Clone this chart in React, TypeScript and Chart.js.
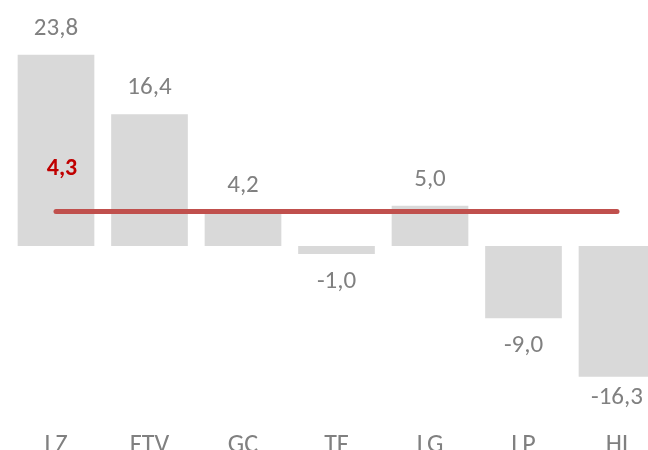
import React, { useEffect, useRef } from "react";
import { Chart, registerables } from "chart.js";

Chart.register(...registerables);

const categories: string[] = ["LZ", "FTV", "GC", "TF", "LG", "LP", "HI"];
const values: number[] = [23.8, 16.4, 4.2, -1.0, 5.0, -9.0, -16.3];
const averageValue = 4.3;
const averageLine: number[] = categories.map(() => averageValue);

const FONT = "Carlito, Lato, 'Open Sans', sans-serif";
const fmt = (v: number) => v.toFixed(1).replace(".", ",");

const labelPlugin = {
  id: "valueLabels",
  afterDatasetsDraw(chart: any) {
    const ctx = chart.ctx;
    const barMeta = chart.getDatasetMeta(0);
    ctx.save();
    ctx.font = `25px ${FONT}`;
    ctx.fillStyle = "#808080";
    ctx.textAlign = "center";
    ctx.textBaseline = "middle";
    barMeta.data.forEach((bar: any, i: number) => {
      const v = values[i];
      let y: number;
      if (v >= 0) {
        y = bar.y - 26;
      } else {
        y = Math.min(bar.y + 28, 398);
      }
      ctx.fillText(fmt(v), bar.x, y);
    });
    const lineMeta = chart.getDatasetMeta(1);
    const p0 = lineMeta.data[0];
    if (p0) {
      ctx.font = `bold 24px ${FONT}`;
      ctx.fillStyle = "#C00000";
      ctx.fillText(fmt(averageValue), p0.x + 6, p0.y - 42);
    }
    ctx.restore();
  },
};

export default function App() {
  const ref = useRef<HTMLCanvasElement | null>(null);
  useEffect(() => {
    if (!ref.current) return;
    document.body.style.overflow = "hidden";
    const chart = new Chart(ref.current, {
      type: "bar",
      data: {
        labels: categories,
        datasets: [
          {
            type: "bar",
            data: values,
            backgroundColor: "#D9D9D9",
            barPercentage: 0.82,
            categoryPercentage: 1,
            order: 1,
          },
          {
            type: "line",
            data: averageLine,
            borderColor: "#C0504D",
            borderWidth: 5,
            borderCapStyle: "round",
            pointRadius: 0,
            fill: false,
            order: 0,
          } as any,
        ],
      },
      options: {
        responsive: false,
        animation: false,
        layout: { padding: { left: 9.25, right: 16.25, top: 5, bottom: 0 } },
        plugins: { legend: { display: false }, tooltip: { enabled: false } },
        scales: {
          x: {
            grid: { display: false, drawTicks: false },
            border: { display: false },
            ticks: {
              color: "#808080",
              font: { family: FONT, size: 26 },
              padding: 7,
            },
            afterFit: (scale: any) => {
              scale.height = 57.4;
            },
          },
          y: {
            display: false,
            min: -22,
            max: 30,
          },
        },
      },
      plugins: [labelPlugin],
    });
    return () => chart.destroy();
  }, []);
  return (
    <div style={{ position: "absolute", left: 0, top: 0, width: 680, height: 480 }}>
      <canvas ref={ref} width={680} height={480} />
    </div>
  );
}
